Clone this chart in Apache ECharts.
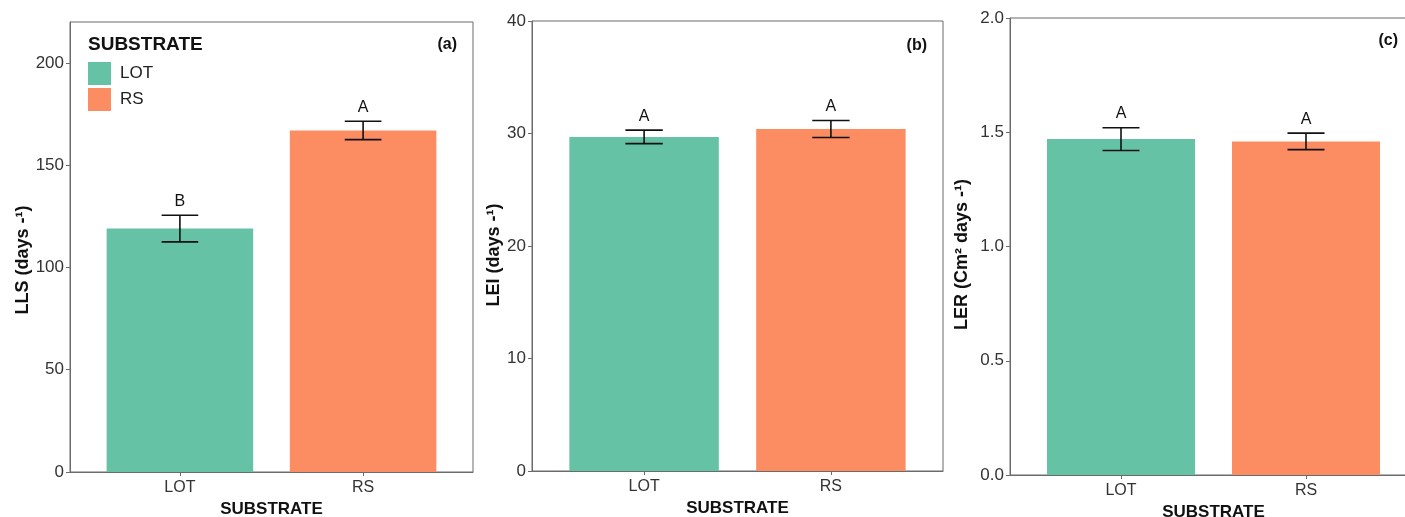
<!DOCTYPE html>
<html>
<head>
<meta charset="utf-8">
<script src="https://cdn.jsdelivr.net/npm/echarts@6/dist/echarts.min.js"></script>
<style>
  html, body { margin: 0; padding: 0; background: #fff; }
  #chart { width: 1405px; height: 517px; }
</style>
</head>
<body>
<div id="chart"></div>
<script>
// data
const categories = ['LOT', 'RS'];

const llsMean = [119, 167];
const llsErr = [6.5, 4.5];
const llsLetters = ['B', 'A'];
const llsTicks = [0, 50, 100, 150, 200];

const leiMean = [29.7, 30.4];
const leiErr = [0.6, 0.75];
const leiLetters = ['A', 'A'];
const leiTicks = [0, 10, 20, 30, 40];

const lerMean = [1.47, 1.46];
const lerErr = [0.05, 0.036];
const lerLetters = ['A', 'A'];
const lerTicks = [0, 0.5, 1.0, 1.5, 2.0];

const colors = ['#66c2a5', '#fc8d62'];
const font = "'Liberation Sans', Arial, sans-serif";
const axisColor = '#6b6b6b';
const W = 1405;

const panels = [
  { left: 70, right: W - 473, top: 22, bottom: 45, max: 220, ticks: llsTicks, digits: 0,
    mean: llsMean, err: llsErr, letters: llsLetters, name: 'LLS (days -\u00B9)', nameGap: 38, shift: 26 },
  { left: 532, right: W - 943, top: 21, bottom: 46, max: 40, ticks: leiTicks, digits: 0,
    mean: leiMean, err: leiErr, letters: leiLetters, name: 'LEI (days -\u00B9)', nameGap: 29, shift: 18 },
  { left: 1010, right: -12, top: 18, bottom: 42, max: 2, ticks: lerTicks, digits: 1,
    mean: lerMean, err: lerErr, letters: lerLetters, name: 'LER (Cm\u00B2 days -\u00B9)', nameGap: 39, shift: 16 }
];

const myChart = echarts.init(document.getElementById('chart'));

const grid = [], xAxis = [], yAxis = [], series = [];

panels.forEach((p, i) => {
  grid.push({
    left: p.left, right: p.right, top: p.top, bottom: p.bottom,
    outerBoundsMode: 'none',
    show: true, borderColor: axisColor, borderWidth: 1
  });
  const gridWidth = W - p.left - p.right;
  const barWidth = 0.8 * gridWidth / 2.2;

  xAxis.push({
    type: 'value', gridIndex: i, min: 0.4, max: 2.6,
    splitLine: { show: false },
    axisLine: { show: true, lineStyle: { color: axisColor } },
    axisTick: { show: true, length: 4, customValues: [1, 2], lineStyle: { color: axisColor } },
    axisLabel: {
      customValues: [1, 2], margin: 8, color: '#333', fontSize: 16, fontFamily: font,
      formatter: v => categories[Math.round(v) - 1] || ''
    },
    name: 'SUBSTRATE', nameLocation: 'middle', nameGap: 27,
    nameTextStyle: { fontWeight: 'bold', fontSize: 17, color: '#111', fontFamily: font }
  });
  yAxis.push({
    type: 'value', gridIndex: i, min: 0, max: p.max,
    splitLine: { show: false },
    axisLine: { show: true, lineStyle: { color: axisColor } },
    axisTick: { show: true, length: 4, customValues: p.ticks, lineStyle: { color: axisColor } },
    axisLabel: {
      customValues: p.ticks, margin: 6, color: '#333', fontSize: 17, fontFamily: font,
      formatter: v => v.toFixed(p.digits)
    },
    name: p.name, nameLocation: 'middle', nameGap: p.nameGap,
    nameTextStyle: { fontWeight: 'bold', fontSize: 18, color: '#111', fontFamily: font,
                     padding: [0, p.shift, 0, 0] }
  });

  categories.forEach((c, k) => {
    series.push({
      name: c, type: 'bar', xAxisIndex: i, yAxisIndex: i,
      stack: 'p' + i, barWidth: barWidth,
      itemStyle: { color: colors[k] },
      data: [[k + 1, p.mean[k]]]
    });
  });

  series.push({
    type: 'custom', xAxisIndex: i, yAxisIndex: i, z: 5,
    data: p.mean.map((m, k) => [k + 1, m - p.err[k], m + p.err[k]]),
    renderItem: (params, api) => {
      const x = api.value(0);
      const top = api.coord([x, api.value(2)]);
      const bot = api.coord([x, api.value(1)]);
      const l = api.coord([x - 0.1, api.value(2)])[0];
      const r = api.coord([x + 0.1, api.value(2)])[0];
      const style = { stroke: '#111', lineWidth: 1.6 };
      return {
        type: 'group',
        children: [
          { type: 'line', shape: { x1: top[0], y1: top[1], x2: bot[0], y2: bot[1] }, style },
          { type: 'line', shape: { x1: l, y1: top[1], x2: r, y2: top[1] }, style },
          { type: 'line', shape: { x1: l, y1: bot[1], x2: r, y2: bot[1] }, style },
          { type: 'text', x: top[0], y: top[1] - 6,
            style: { text: p.letters[params.dataIndex], fill: '#111', fontSize: 16,
                     fontFamily: font, align: 'center', verticalAlign: 'bottom' } }
        ]
      };
    }
  });
});

const option = {
  animation: false,
  grid, xAxis, yAxis, series,
  legend: {
    data: categories, left: 88, top: 62, orient: 'vertical',
    icon: 'rect', itemWidth: 23, itemHeight: 23, itemGap: 3, padding: 0,
    selectedMode: false,
    textStyle: { fontSize: 17, color: '#222', fontFamily: font, padding: [0, 0, 0, 4] }
  },
  graphic: [
    { type: 'text', left: 88, top: 35,
      style: { text: 'SUBSTRATE', fontSize: 19, fontWeight: 'bold', fill: '#111', fontFamily: font } },
    { type: 'text', x: 457, y: 45,
      style: { text: '(a)', fontSize: 16, fontWeight: 'bold', fill: '#111', fontFamily: font, align: 'right', verticalAlign: 'middle' } },
    { type: 'text', x: 927, y: 46,
      style: { text: '(b)', fontSize: 16, fontWeight: 'bold', fill: '#111', fontFamily: font, align: 'right', verticalAlign: 'middle' } },
    { type: 'text', x: 1398, y: 41,
      style: { text: '(c)', fontSize: 16, fontWeight: 'bold', fill: '#111', fontFamily: font, align: 'right', verticalAlign: 'middle' } }
  ]
};
option && myChart.setOption(option);
</script>
</body>
</html>
